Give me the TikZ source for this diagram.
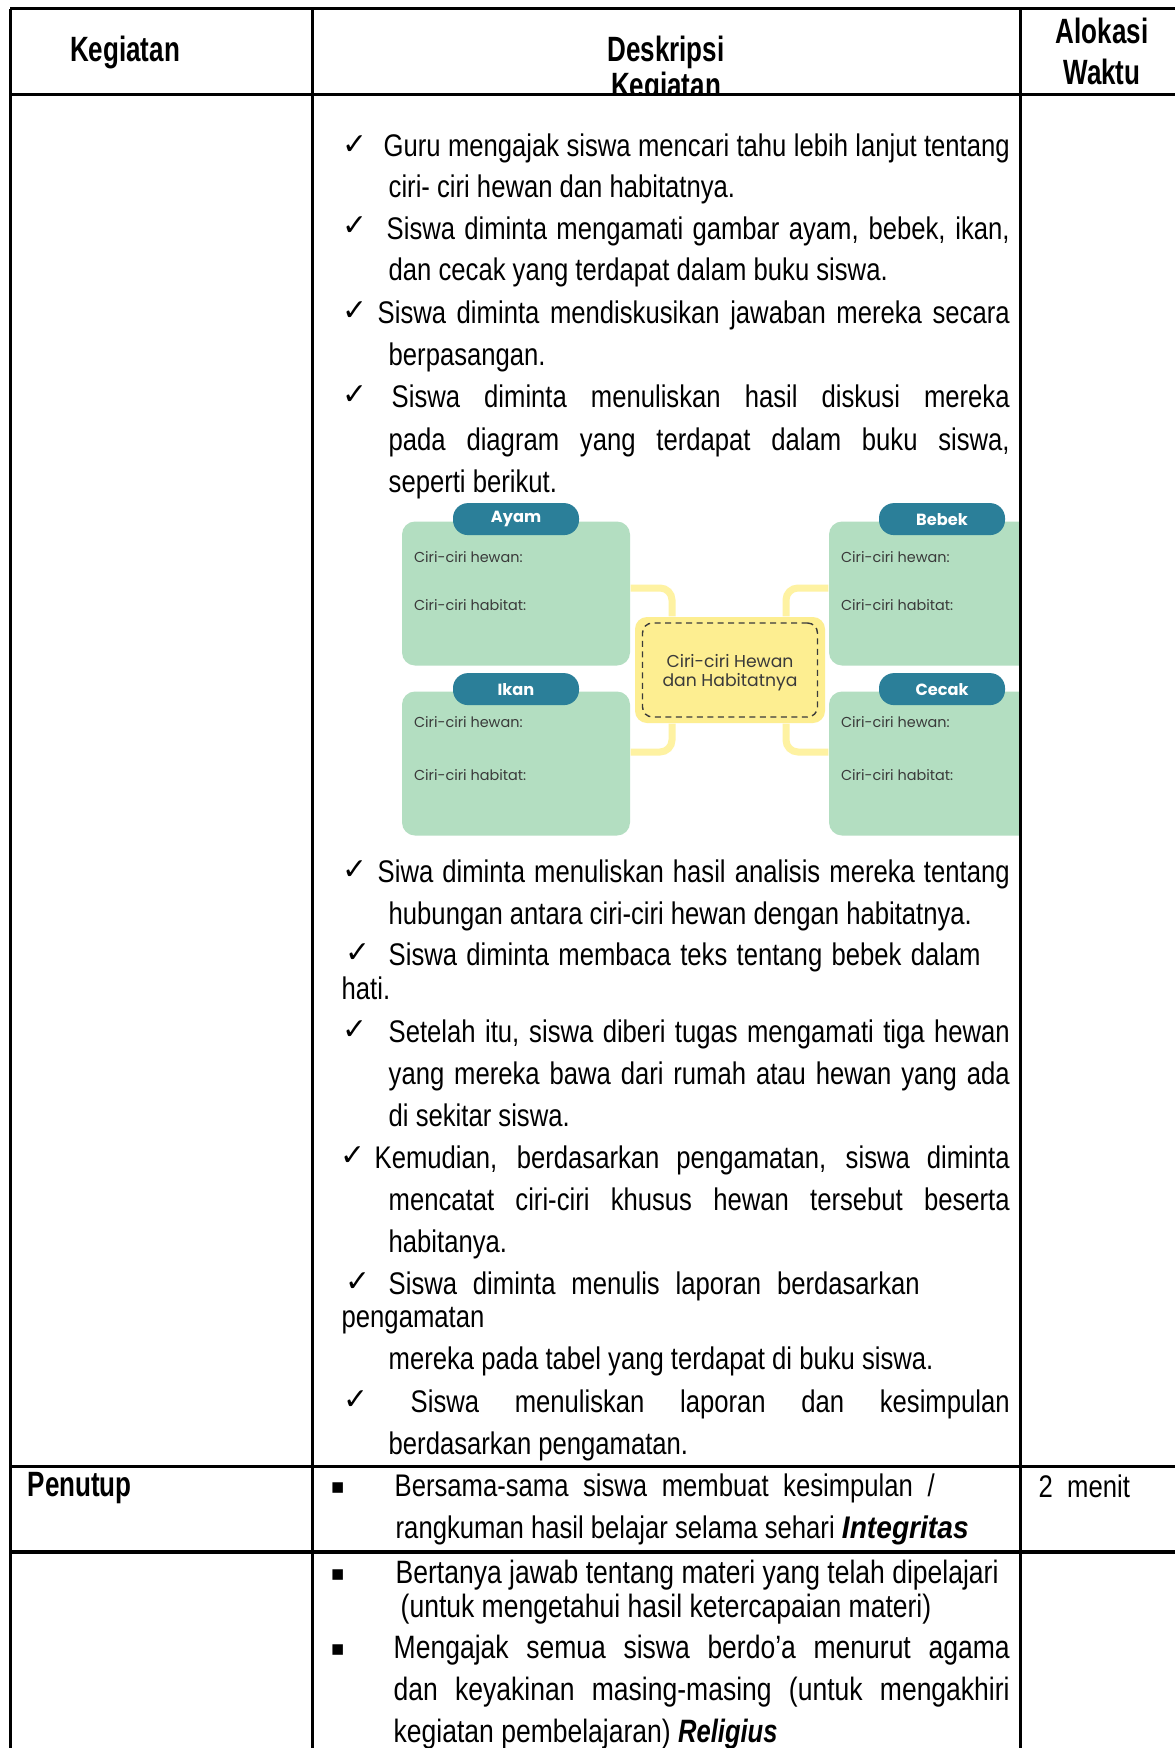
\documentclass[tikz,border=0pt]{standalone}
\usepackage{fontspec}
\setmainfont{Liberation Sans}[FakeStretch=0.82]
\newfontfamily\hdfont{Liberation Sans Bold}[FakeStretch=0.74]
\newfontfamily\bifont{Liberation Sans Bold Italic}[FakeStretch=0.90]
\newfontfamily\bifontn{Liberation Sans Bold Italic}[FakeStretch=0.79]
\newfontfamily\symfont{DejaVu Sans}
\newfontfamily\diafont{Poppins}
\usepackage{tikz}
\usetikzlibrary{positioning}
\definecolor{boxgreen}{HTML}{B3DEC1}
\definecolor{tabteal}{HTML}{2B7F99}
\definecolor{hubyellow}{HTML}{FDEE91}
\definecolor{linkyellow}{HTML}{FEF2A2}
\definecolor{diatext}{HTML}{3A3A3A}
\tikzset{
  cell/.style={inner sep=0pt,anchor=base west},
  head/.style={inner sep=0pt,anchor=base,font=\hdfont},
  chk/.style={inner sep=0pt,anchor=base west,font=\symfont\fontsize{8.5pt}{9pt}\selectfont},
  sq/.style={inner sep=0pt,anchor=base west,font=\symfont\fontsize{6pt}{7pt}\selectfont},
  rule/.style={line width=0.3mm},
  gbox/.style={fill=boxgreen,rounded corners=1.3mm,minimum width=22.8mm,minimum height=14.4mm},
  tab/.style={fill=tabteal,rounded corners=1.5mm,inner sep=0pt,minimum width=12.6mm,minimum height=3.2mm,text=white,font=\diafont\bfseries\fontsize{4.6pt}{5pt}\selectfont},
  dtext/.style={inner sep=0pt,anchor=west,text=diatext,font=\diafont\fontsize{4.1pt}{4.5pt}\selectfont},
  link/.style={draw=linkyellow,line width=0.7mm,rounded corners=1.2mm}
}
\begin{document}
\begin{tikzpicture}[x=0.1mm,y=-0.1mm,font=\fontsize{8.9pt}{10pt}\selectfont]
  \useasboundingbox[fill=white] (0,0) rectangle (1175,1748);

  \node[head] (hkeg) at (125,62) {Kegiatan};
  \begin{scope}
    \clip (312,9) rectangle (1020,95);
    \node[head] (hdes) at (666,62) {Deskripsi};
    \node[head] (hdes2) at (666,98) {Kegiatan};
  \end{scope}
  \node[head] (halo) at (1102,44) {Alokasi};
  \node[head] (hwak) at (1102,85) {Waktu};

  \node[chk] (c1) at (342,154) {✓};
  \node[cell] (l1) at (383,157) {\makebox[62.6mm][s]{Guru mengajak siswa mencari tahu lebih lanjut tentang}};
  \node[cell] (l2) at (388,197) {ciri- ciri hewan dan habitatnya.};
  \node[chk] (c3) at (342,236) {✓};
  \node[cell] (l3) at (386,239) {\makebox[62.3mm][s]{Siswa diminta mengamati gambar ayam, bebek, ikan,}};
  \node[cell] (l4) at (388,280) {dan cecak yang terdapat dalam buku siswa.};
  \node[chk] (c5) at (342,320) {✓};
  \node[cell] (l5) at (377,323) {\makebox[63.2mm][s]{Siswa diminta mendiskusikan jawaban mereka secara}};
  \node[cell] (l6) at (388,365) {berpasangan.};
  \node[chk] (c7) at (342,404) {✓};
  \node[cell] (l7) at (391,407) {\makebox[61.8mm][s]{Siswa diminta menuliskan hasil diskusi mereka}};
  \node[cell] (l8) at (388,450) {\makebox[62.1mm][s]{pada diagram yang terdapat dalam buku siswa,}};
  \node[cell] (l9) at (388,492) {seperti berikut.};

  \node[gbox] (ayam) at (516,593.5) {};
  \node[gbox] (ikan) at (516,763.5) {};
  \begin{scope}
    \clip (800,480) rectangle (1019,850);
    \node[gbox] (bebek) at (943,593.5) {};
    \node[gbox] (cecak) at (943,763.5) {};
  \end{scope}
  \node[fill=hubyellow,rounded corners=1.2mm,minimum width=19mm,minimum height=10.6mm] (hub) at (730,670) {};
  \node[draw=diatext,dashed,dash pattern=on 0.6mm off 0.45mm,rounded corners=1mm,minimum width=17.5mm,minimum height=9.4mm] (hubline) at (730,670) {};
  \node[align=center,inner sep=0pt,text=diatext,font=\diafont\fontsize{4.9pt}{5.4pt}\selectfont] (hubtext) at (730,673) {Ciri-ciri Hewan\\dan Habitatnya};
  \draw[link] ([yshift=0.55mm]ayam.east) -| ([xshift=-5.8mm]hub.north);
  \draw[link] ([yshift=0.55mm]bebek.west) -| ([xshift=5.6mm]hub.north);
  \draw[link] ([yshift=1.15mm]ikan.east) -| ([xshift=-5.8mm]hub.south);
  \draw[link] ([yshift=1.15mm]cecak.west) -| ([xshift=5.6mm]hub.south);
  \node[tab,above=-1.5mm of ayam.north] (tayam) {Ayam};
  \node[tab,above=-1.5mm of ikan.north] (tikan) {Ikan};
  \node[tab,above=-1.5mm of bebek.north,xshift=-0.1mm] (tbebek) {Bebek};
  \node[tab,above=-1.5mm of cecak.north,xshift=-0.1mm] (tcecak) {Cecak};
  \node[dtext] (ayamh) at ([xshift=1.2mm,yshift=-3.6mm]ayam.north west) {Ciri-ciri hewan:};
  \node[dtext] (ayamb) at ([xshift=1.2mm,yshift=-8.4mm]ayam.north west) {Ciri-ciri habitat:};
  \node[dtext] (ikanh) at ([xshift=1.2mm,yshift=-3.1mm]ikan.north west) {Ciri-ciri hewan:};
  \node[dtext] (ikanb) at ([xshift=1.2mm,yshift=-8.4mm]ikan.north west) {Ciri-ciri habitat:};
  \node[dtext] (bebekh) at ([xshift=1.2mm,yshift=-3.6mm]bebek.north west) {Ciri-ciri hewan:};
  \node[dtext] (bebekb) at ([xshift=1.2mm,yshift=-8.4mm]bebek.north west) {Ciri-ciri habitat:};
  \node[dtext] (cecakh) at ([xshift=1.2mm,yshift=-3.1mm]cecak.north west) {Ciri-ciri hewan:};
  \node[dtext] (cecakb) at ([xshift=1.2mm,yshift=-8.4mm]cecak.north west) {Ciri-ciri habitat:};

  \node[chk] (c10) at (342,879) {✓};
  \node[cell] (l10) at (377,882) {\makebox[63.2mm][s]{Siwa diminta menuliskan hasil analisis mereka tentang}};
  \node[cell] (l11) at (388,924) {hubungan antara ciri-ciri hewan dengan habitatnya.};
  \node[chk] (c12) at (345,962) {✓};
  \node[cell] (l12) at (388,965) {\makebox[59.2mm][s]{Siswa diminta membaca teks tentang bebek dalam}};
  \node[cell] (l13) at (341,999) {hati.};
  \node[chk] (c14) at (342,1039) {✓};
  \node[cell] (l14) at (388,1042) {\makebox[62.1mm][s]{Setelah itu, siswa diberi tugas mengamati tiga hewan}};
  \node[cell] (l15) at (388,1084) {\makebox[62.1mm][s]{yang mereka bawa dari rumah atau hewan yang ada}};
  \node[cell] (l16) at (388,1126) {di sekitar siswa.};
  \node[chk] (c17) at (340,1165) {✓};
  \node[cell] (l17) at (374,1168) {\makebox[63.5mm][s]{Kemudian, berdasarkan pengamatan, siswa diminta}};
  \node[cell] (l18) at (388,1210) {\makebox[62.1mm][s]{mencatat ciri-ciri khusus hewan tersebut beserta}};
  \node[cell] (l19) at (388,1252) {habitanya.};
  \node[chk] (c20) at (345,1291) {✓};
  \node[cell] (l20) at (388,1294) {\makebox[53.1mm][s]{Siswa diminta menulis laporan berdasarkan}};
  \node[cell] (l21) at (341,1327) {pengamatan};
  \node[cell] (l22) at (388,1369) {mereka pada tabel yang terdapat di buku siswa.};
  \node[chk] (c23) at (343,1409) {✓};
  \node[cell] (l23) at (410,1412) {\makebox[59.9mm][s]{Siswa menuliskan laporan dan kesimpulan}};
  \node[cell] (l24) at (388,1454) {berdasarkan pengamatan.};

  \node[cell,font=\hdfont] (penutup) at (27,1496) {Penutup};
  \node[sq] (b1) at (330,1493) {▪};
  \node[cell] (p1) at (394,1496) {\makebox[54mm][s]{Bersama-sama siswa membuat kesimpulan /}};
  \node[cell] (p2) at (395,1538) {rangkuman hasil belajar selama sehari {\bifont Integritas}};
  \node[cell] (waktu) at (1038,1497) {2\ \ menit};

  \begin{scope}[font=\fontsize{9.2pt}{10pt}\selectfont]
    \node[sq] (b2) at (330,1580) {▪};
    \node[cell] (q1) at (395,1583) {Bertanya jawab tentang materi yang telah dipelajari};
    \node[cell] (q2) at (400,1617) {(untuk mengetahui hasil ketercapaian materi)};
    \node[sq] (b3) at (330,1655) {▪};
    \node[cell] (q3) at (393,1658) {\makebox[61.6mm][s]{Mengajak semua siswa berdo’a menurut agama}};
    \node[cell] (q4) at (393,1700) {\makebox[61.6mm][s]{dan keyakinan masing-masing (untuk mengakhiri}};
    \node[cell] (q5) at (393,1742) {kegiatan pembelajaran) {\bifontn Religius}};
  \end{scope}

  \draw[rule] (10,9) -- (1175,9);
  \draw[rule] (10,95) -- (1175,95);
  \draw[rule] (10,1466) -- (1175,1466);
  \draw[line width=0.4mm] (10,1552) -- (1175,1552);
  \draw[rule] (10,9) -- (10,1748);
  \draw[rule] (312,9) -- (312,1748);
  \draw[rule] (1020,9) -- (1020,1748);
\end{tikzpicture}
\end{document}
